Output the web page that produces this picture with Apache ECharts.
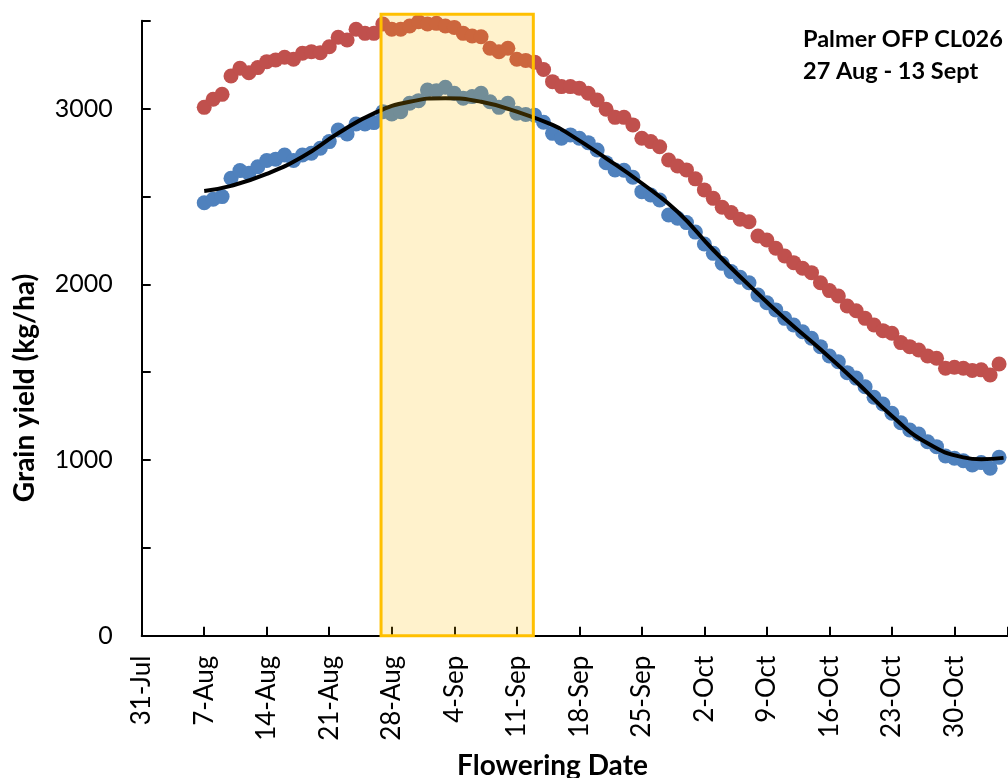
<!DOCTYPE html>
<html>
<head>
<meta charset="utf-8">
<script src="https://cdn.jsdelivr.net/npm/echarts@6/dist/echarts.min.js"></script>
<style>
html,body{margin:0;padding:0;background:#fff;}
#chart{width:1008px;height:778px;}
</style>
</head>
<body>
<div id="chart"></div>
<script>
// X axis: days after 31-Jul
const xTickLabels = ['31-Jul','7-Aug','14-Aug','21-Aug','28-Aug','4-Sep','11-Sep','18-Sep','25-Sep','2-Oct','9-Oct','16-Oct','23-Oct','30-Oct'];
const yTickLabels = ['0','1000','2000','3000'];

const flowerDay = [7,8,9,10,11,12,13,14,15,16,17,18,19,20,21,22,23,24,25,26,27,28,29,30,31,32,33,34,35,36,37,38,39,40,41,42,43,44,45,46,47,48,49,50,51,52,53,54,55,56,57,58,59,60,61,62,63,64,65,66,67,68,69,70,71,72,73,74,75,76,77,78,79,80,81,82,83,84,85,86,87,88,89,90,91,92,93,94,95,96];

const yieldRed = [3007,3053,3081,3185,3229,3204,3233,3267,3277,3292,3281,3315,3324,3318,3352,3406,3390,3451,3428,3428,3481,3451,3451,3470,3494,3481,3485,3470,3462,3428,3413,3409,3343,3324,3343,3281,3274,3264,3222,3153,3125,3125,3116,3087,3049,2996,2950,2950,2907,2831,2812,2783,2707,2673,2651,2600,2537,2489,2438,2408,2370,2356,2275,2252,2205,2161,2123,2091,2066,2009,1964,1933,1876,1849,1806,1768,1736,1721,1668,1645,1626,1592,1579,1522,1528,1522,1509,1513,1484,1546];

const yieldBlue = [2464,2484,2499,2603,2647,2632,2669,2704,2712,2736,2704,2736,2746,2774,2812,2878,2855,2912,2912,2920,2982,2969,2982,3030,3045,3106,3102,3121,3087,3059,3068,3087,3039,3007,3030,2973,2966,2962,2922,2859,2831,2850,2831,2806,2764,2692,2651,2649,2609,2527,2508,2480,2394,2376,2351,2297,2229,2176,2119,2072,2040,2009,1939,1895,1854,1806,1768,1730,1693,1645,1592,1559,1497,1466,1417,1357,1319,1266,1212,1171,1148,1104,1076,1023,1010,996,972,985,953,1015];

const trendDay = [7,10,14,18,22,26,30,34,38,42,46,48,52,56,60,64,68,72,76,80,84,88,92,94,96.5];
const trendYield = [2531,2560,2628,2726,2859,2973,3039,3059,3039,2982,2907,2850,2717,2575,2413,2195,1995,1805,1630,1445,1250,1095,1015,1004,1012];

// highlighted flowering window (27 Aug - 13 Sept)
const windowStart = [26.8];
const windowEnd = [43.85];
const windowYield = [0, 3537];

const annotationLines = ['Palmer OFP CL026', '27 Aug - 13 Sept'];
const xTitle = 'Flowering Date';
const yTitle = 'Grain yield (kg/ha)';

const chart = echarts.init(document.getElementById('chart'), null, {renderer: 'canvas'});

const FONT = 'Lato, "Open Sans", sans-serif';

const option = {
  animation: false,
  backgroundColor: '#fff',
  grid: {left: 141.7, top: 20.7, width: 868, height: 615, containLabel: false},
  xAxis: {
    type: 'value', min: 0, max: 97, interval: 7,
    axisLine: {show: true, onZero: false, lineStyle: {color: '#000', width: 2}},
    axisTick: {show: true, inside: true, length: 9, lineStyle: {color: '#000', width: 2}},
    axisLabel: {
      show: true, rotate: 90, margin: 20, color: '#000', fontFamily: FONT, fontSize: 26,
      showMinLabel: true, showMaxLabel: true, hideOverlap: false,
      formatter: function (v) { const i = Math.round(v / 7); return (v % 7 === 0 && xTickLabels[i]) ? xTickLabels[i] : ''; }
    },
    splitLine: {show: false}
  },
  yAxis: {
    type: 'value', min: 0, max: 3500, interval: 500,
    axisLine: {show: true, onZero: false, lineStyle: {color: '#000', width: 2}},
    axisTick: {show: true, inside: true, length: 9, lineStyle: {color: '#000', width: 2}},
    axisLabel: {
      show: true, margin: 29, color: '#000', fontFamily: FONT, fontSize: 25,
      showMinLabel: true, showMaxLabel: true,
      formatter: function (v) { return yTickLabels.indexOf(String(v)) >= 0 ? String(v) : ''; }
    },
    splitLine: {show: false}
  },
  series: [
    {
      type: 'scatter', name: 'red', z: 2,
      data: flowerDay.map((d, i) => [d, yieldRed[i]]),
      symbol: 'circle', symbolSize: 15,
      itemStyle: {color: '#C0504D', opacity: 1},
      emphasis: {disabled: true}
    },
    {
      type: 'scatter', name: 'blue', z: 2,
      data: flowerDay.map((d, i) => [d, yieldBlue[i]]),
      symbol: 'circle', symbolSize: 15,
      itemStyle: {color: '#4F81BD', opacity: 1},
      emphasis: {disabled: true}
    },
    {
      type: 'line', name: 'trend', z: 3,
      data: trendDay.map((d, i) => [d, trendYield[i]]),
      smooth: 0.5, showSymbol: false, symbol: 'none',
      lineStyle: {color: '#000', width: 4},
      emphasis: {disabled: true}
    },
    {
      type: 'custom', name: 'window', z: 10, clip: false,
      data: [[windowStart[0], windowEnd[0], windowYield[0], windowYield[1]]],
      encode: {x: [0, 1], y: [2, 3]},
      renderItem: function (params, api) {
        const p0 = api.coord([api.value(0), api.value(2)]);
        const p1 = api.coord([api.value(1), api.value(3)]);
        return {
          type: 'rect',
          shape: {x: p0[0], y: p1[1], width: p1[0] - p0[0], height: p0[1] - p1[1]},
          style: {fill: 'rgba(255,192,0,0.2)', stroke: '#FFC000', lineWidth: 3}
        };
      }
    }
  ],
  graphic: [
    {type: 'text', x: 25, y: 388, rotation: Math.PI / 2,
     style: {text: yTitle, font: 'bold 28px ' + FONT, fill: '#000', align: 'center', verticalAlign: 'middle'}},
    {type: 'text', x: 552.5, y: 766,
     style: {text: xTitle, font: 'bold 28px ' + FONT, fill: '#000', align: 'center', verticalAlign: 'middle'}},
    {type: 'text', x: 803, y: 39,
     style: {text: annotationLines[0], font: 'bold 23.5px ' + FONT, fill: '#000', align: 'left', verticalAlign: 'middle'}},
    {type: 'text', x: 803, y: 71,
     style: {text: annotationLines[1], font: 'bold 23.5px ' + FONT, fill: '#000', align: 'left', verticalAlign: 'middle'}}
  ]
};
chart.setOption(option);
</script>
</body>
</html>
